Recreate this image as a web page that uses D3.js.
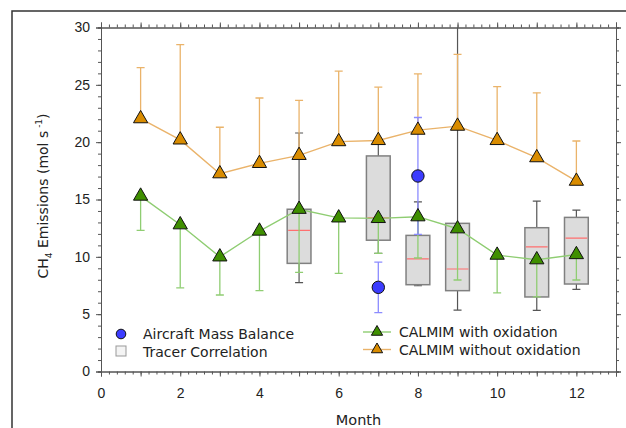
<!DOCTYPE html>
<html>
<head>
<meta charset="utf-8">
<script src="https://cdn.jsdelivr.net/npm/d3@7"></script>
<style>
  body { margin: 0; background: #fff; }
  svg { display: block; font-family: 'DejaVu Sans', Verdana, sans-serif; }
</style>
</head>
<body>
<div class="chart"></div>
<script>
'use strict';

// chart data
var months = [1, 2, 3, 4, 5, 6, 7, 8, 9, 10, 11, 12];
var withOx = [15.3, 12.8, 10.0, 12.25, 14.15, 13.4, 13.35, 13.5, 12.45, 10.15, 9.75, 10.2];
var withOxLow = [12.3, 7.3, 6.67, 7.05, 8.65, 8.56, 10.3, 9.9, 7.98, 6.85, 6.5, 7.98];
var withoutOx = [22.05, 20.2, 17.25, 18.15, 18.85, 20.05, 20.15, 21.05, 21.4, 20.15, 18.65, 16.6];
var withoutOxHigh = [26.5, 28.5, 21.3, 23.85, 23.65, 26.2, 24.8, 25.95, 27.65, 24.85, 24.3, 20.1];

var aircraftMonths = [7, 8];
var aircraftValues = [7.34, 17.05];
var aircraftErr = [2.2, 5.1];

var tracerMonths = [5, 7, 8, 9, 11, 12];
var tracerLow = [7.75, 10.3, 7.48, 5.36, 5.33, 7.17];
var tracerQ1 = [9.43, 11.45, 7.57, 7.05, 6.5, 7.63];
var tracerMedian = [12.3, 13.4, 9.83, 8.94, 10.86, 11.64];
var tracerQ3 = [14.15, 18.8, 11.87, 12.92, 12.54, 13.44];
var tracerHigh = [20.8, 20.0, 14.8, 32, 14.86, 14.08];

var xTickLabels = [0, 2, 4, 6, 8, 10, 12];
var yTickLabels = [0, 5, 10, 15, 20, 25, 30];

var width = 626;
var height = 428;
var margin = { top: 27.5, right: 10, bottom: 56.5, left: 101 };

var orangeFill = '#d98c00';
var orangeLine = '#eab36a';
var greenFill = '#3f8f00';
var greenLine = '#8fcd72';
var blueFill = '#3c3cff';
var blueLine = '#8c8cff';

var svg = d3.select('.chart')
            .append('svg')
            .attr('width', width)
            .attr('height', height);

// outer frame of the figure panel
svg.append('rect')
   .attr('x', 12)
   .attr('y', 11)
   .attr('width', 700)
   .attr('height', 500)
   .attr('fill', 'none')
   .attr('stroke', '#333')
   .attr('stroke-width', 1.5);

var x = d3.scaleLinear().domain([0, 13]).range([margin.left, width - margin.right]);
var y = d3.scaleLinear().domain([0, 30]).range([height - margin.bottom, margin.top]);

svg.append('clipPath')
   .attr('id', 'plot-clip')
   .append('rect')
   .attr('x', x(0))
   .attr('y', y(30))
   .attr('width', x(13) - x(0))
   .attr('height', y(0) - y(30));

var plot = svg.append('g').attr('clip-path', 'url(#plot-clip)');
var capW = 4;

// tracer correlation boxes
tracerMonths.forEach(function(m, i) {
  var g = plot.append('g');
  g.append('line')
   .attr('x1', x(m)).attr('x2', x(m))
   .attr('y1', y(tracerLow[i])).attr('y2', y(tracerHigh[i]))
   .attr('stroke', '#555').attr('stroke-width', 1.2);
  [tracerLow[i], tracerHigh[i]].forEach(function(v) {
    g.append('line')
     .attr('x1', x(m) - capW).attr('x2', x(m) + capW)
     .attr('y1', y(v)).attr('y2', y(v))
     .attr('stroke', '#555').attr('stroke-width', 1.2);
  });
  g.append('rect')
   .attr('x', x(m - 0.3))
   .attr('width', x(0.6) - x(0))
   .attr('y', y(tracerQ3[i]))
   .attr('height', y(tracerQ1[i]) - y(tracerQ3[i]))
   .attr('fill', '#dcdcdc')
   .attr('stroke', '#808080')
   .attr('stroke-width', 1.5);
  g.append('line')
   .attr('x1', x(m - 0.3) + 1).attr('x2', x(m + 0.3) - 1)
   .attr('y1', y(tracerMedian[i])).attr('y2', y(tracerMedian[i]))
   .attr('stroke', '#ff6f6f').attr('stroke-width', 1.2);
});

function vBar(parent, m, v1, v2, color) {
  parent.append('line')
        .attr('x1', x(m)).attr('x2', x(m))
        .attr('y1', y(v1)).attr('y2', y(v2))
        .attr('stroke', color).attr('stroke-width', 1.3);
  parent.append('line')
        .attr('x1', x(m) - capW).attr('x2', x(m) + capW)
        .attr('y1', y(v2)).attr('y2', y(v2))
        .attr('stroke', color).attr('stroke-width', 1.3);
}

// error bars
months.forEach(function(m, i) {
  vBar(plot, m, withoutOx[i], withoutOxHigh[i], orangeLine);
  vBar(plot, m, withOx[i], withOxLow[i], greenLine);
});
aircraftMonths.forEach(function(m, i) {
  vBar(plot, m, aircraftValues[i], aircraftValues[i] + aircraftErr[i], blueLine);
  vBar(plot, m, aircraftValues[i], aircraftValues[i] - aircraftErr[i], blueLine);
});

var line = d3.line()
             .x(function(d) { return x(d[0]); })
             .y(function(d) { return y(d[1]); });

plot.append('path')
    .attr('d', line(d3.zip(months, withoutOx)))
    .attr('fill', 'none')
    .attr('stroke', orangeLine)
    .attr('stroke-width', 1.4);

plot.append('path')
    .attr('d', line(d3.zip(months, withOx)))
    .attr('fill', 'none')
    .attr('stroke', greenLine)
    .attr('stroke-width', 1.4);

var tri = d3.symbol().type(d3.symbolTriangle).size(88);

plot.selectAll('.tri-orange')
    .data(d3.zip(months, withoutOx))
    .enter()
    .append('path')
    .attr('d', tri)
    .attr('transform', function(d) { return 'translate(' + x(d[0]) + ',' + y(d[1]) + ')'; })
    .attr('fill', orangeFill)
    .attr('stroke', '#111')
    .attr('stroke-width', 1);

plot.selectAll('.tri-green')
    .data(d3.zip(months, withOx))
    .enter()
    .append('path')
    .attr('d', tri)
    .attr('transform', function(d) { return 'translate(' + x(d[0]) + ',' + y(d[1]) + ')'; })
    .attr('fill', greenFill)
    .attr('stroke', '#111')
    .attr('stroke-width', 1);

plot.selectAll('circle')
    .data(d3.zip(aircraftMonths, aircraftValues))
    .enter()
    .append('circle')
    .attr('cx', function(d) { return x(d[0]); })
    .attr('cy', function(d) { return y(d[1]); })
    .attr('r', 6.2)
    .attr('fill', blueFill)
    .attr('stroke', '#111')
    .attr('stroke-width', 1);

// axes: minor and major ticks on all four sides
var minorX = d3.range(0, 13.001, 0.2);
var minorY = d3.range(0, 30.001, 1);
var evenLabel = function(d) { return xTickLabels.indexOf(d) >= 0 ? d : ''; };

function styleAxis(g) {
  g.selectAll('path, line').attr('stroke', '#555');
  g.selectAll('text').attr('fill', '#222').style('font-size', '14px');
}

svg.append('g')
   .attr('transform', 'translate(0,' + y(0) + ')')
   .call(d3.axisBottom(x).tickValues(minorX).tickSize(3).tickFormat(''))
   .call(styleAxis);
svg.append('g')
   .attr('transform', 'translate(0,' + y(0) + ')')
   .call(d3.axisBottom(x).tickValues(d3.range(0, 14)).tickSize(5).tickPadding(12).tickFormat(evenLabel))
   .call(styleAxis);
svg.append('g')
   .attr('transform', 'translate(0,' + y(30) + ')')
   .call(d3.axisTop(x).tickValues(minorX).tickSize(3).tickFormat(''))
   .call(styleAxis);
svg.append('g')
   .attr('transform', 'translate(0,' + y(30) + ')')
   .call(d3.axisTop(x).tickValues(d3.range(0, 14)).tickSize(5).tickFormat(''))
   .call(styleAxis);

svg.append('g')
   .attr('transform', 'translate(' + x(0) + ',0)')
   .call(d3.axisLeft(y).tickValues(minorY).tickSize(3).tickFormat(''))
   .call(styleAxis);
svg.append('g')
   .attr('transform', 'translate(' + x(0) + ',0)')
   .call(d3.axisLeft(y).tickValues(yTickLabels).tickSize(5).tickPadding(6))
   .call(styleAxis);
svg.append('g')
   .attr('transform', 'translate(' + x(13) + ',0)')
   .call(d3.axisRight(y).tickValues(minorY).tickSize(3).tickFormat(''))
   .call(styleAxis);
svg.append('g')
   .attr('transform', 'translate(' + x(13) + ',0)')
   .call(d3.axisRight(y).tickValues(yTickLabels).tickSize(5).tickFormat(''))
   .call(styleAxis);

// axis titles
svg.append('text')
   .attr('x', (x(0) + x(13)) / 2)
   .attr('y', 424.5)
   .attr('text-anchor', 'middle')
   .attr('fill', '#222')
   .style('font-size', '14.5px')
   .text('Month');

var yTitle = svg.append('text')
   .attr('transform', 'translate(48,196) rotate(-90)')
   .attr('text-anchor', 'middle')
   .attr('fill', '#222')
   .style('font-size', '14px');
yTitle.append('tspan').text('CH');
yTitle.append('tspan').attr('dy', 4).style('font-size', '9px').text('4');
yTitle.append('tspan').attr('dy', -4).text(' Emissions (mol s');
yTitle.append('tspan').attr('dy', -6).style('font-size', '9px').text(' -1');
yTitle.append('tspan').attr('dy', 6).text(')');

// legend
var legend = svg.append('g').style('font-size', '14px').attr('fill', '#222');

legend.append('circle')
      .attr('cx', 121).attr('cy', 334).attr('r', 4.8)
      .attr('fill', blueFill).attr('stroke', '#111');
legend.append('text').attr('x', 143).attr('y', 338.5).text('Aircraft Mass Balance');

legend.append('rect')
      .attr('x', 116).attr('y', 346).attr('width', 10).attr('height', 10)
      .attr('fill', '#f4f4f4').attr('stroke', '#999');
legend.append('text').attr('x', 143).attr('y', 356.5).text('Tracer Correlation');

var legTri = d3.symbol().type(d3.symbolTriangle).size(55);
[[withOx, greenLine, greenFill, 332, 'CALMIM with oxidation'],
 [withoutOx, orangeLine, orangeFill, 349.5, 'CALMIM without oxidation']].forEach(function(item) {
  legend.append('line')
        .attr('x1', 363).attr('x2', 391)
        .attr('y1', item[3]).attr('y2', item[3])
        .attr('stroke', item[1]).attr('stroke-width', 1.4);
  legend.append('path')
        .attr('d', legTri)
        .attr('transform', 'translate(377,' + item[3] + ')')
        .attr('fill', item[2]).attr('stroke', '#111');
  legend.append('text').attr('x', 399).attr('y', item[3] + 5).text(item[4]);
});
</script>
</body>
</html>
